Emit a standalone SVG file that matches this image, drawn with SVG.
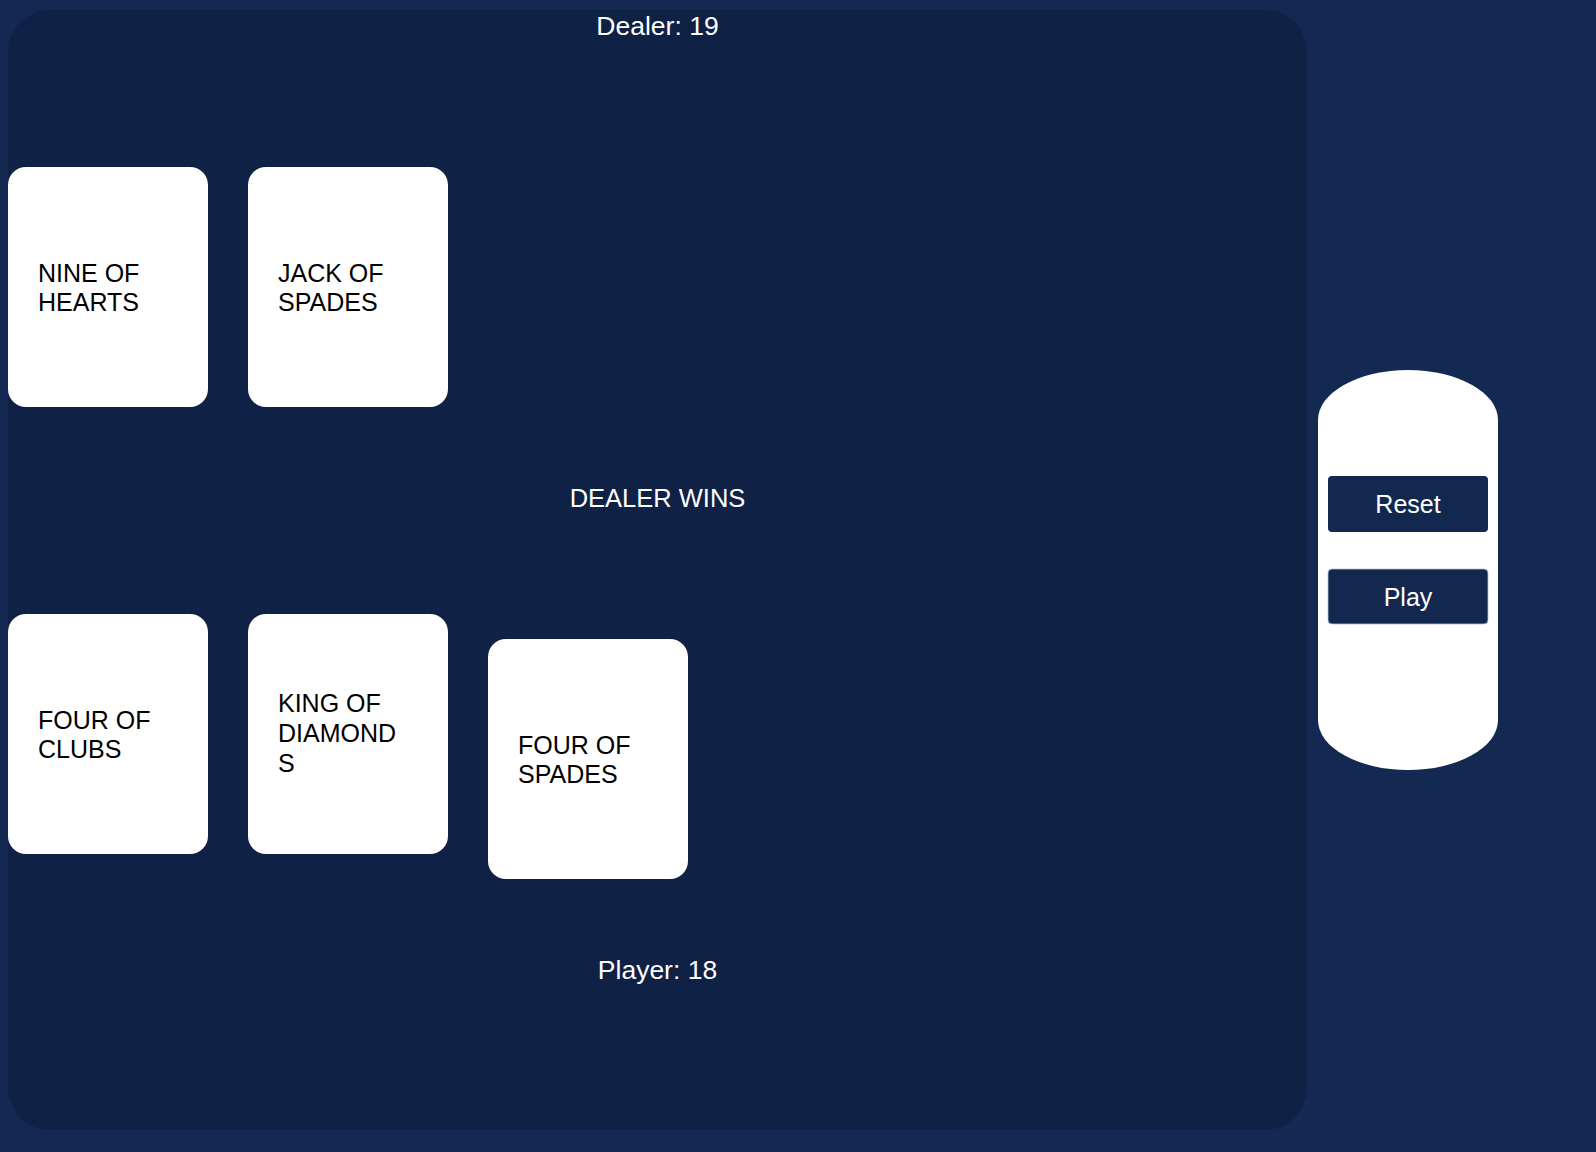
<svg xmlns="http://www.w3.org/2000/svg" width="1596" height="1152" viewBox="0 0 1596 1152">
<style>
.lbl{font-family:"Liberation Sans",Arial,sans-serif;font-size:25.5px;fill:#ffffff}
.score{font-size:26.5px}
.card rect{fill:#ffffff}
.card text{font-family:"Liberation Sans",Arial,sans-serif;font-size:25px;fill:#000000}
.btn rect{fill:#13284f}
.btn text{font-family:"Liberation Sans",Arial,sans-serif;font-size:25px;fill:#ffffff;text-anchor:middle}
</style>
<rect x="0" y="0" width="1596" height="1152" fill="#132952"/>
<g id="table">
<rect x="8" y="10" width="1299" height="1120" rx="42" ry="42" fill="#0f2144"/>
</g>
<g id="dealer-score"><text class="lbl score" x="657.5" y="35" text-anchor="middle">Dealer: 19</text></g>
<g id="result"><text class="lbl" x="657.5" y="507" text-anchor="middle">DEALER WINS</text></g>
<g id="player-score"><text class="lbl score" x="657.5" y="979" text-anchor="middle">Player: 18</text></g>
<g id="card-nine-hearts" class="card">
<rect x="8" y="167" width="200" height="240" rx="18"/>
<text x="38" y="282">NINE OF</text><text x="38" y="311">HEARTS</text>
</g>
<g id="card-jack-spades" class="card">
<rect x="248" y="167" width="200" height="240" rx="18"/>
<text x="278" y="282">JACK OF</text><text x="278" y="311">SPADES</text>
</g>
<g id="card-four-clubs" class="card">
<rect x="8" y="614" width="200" height="240" rx="18"/>
<text x="38" y="729">FOUR OF</text><text x="38" y="758">CLUBS</text>
</g>
<g id="card-king-diamonds" class="card">
<rect x="248" y="614" width="200" height="240" rx="18"/>
<text x="278" y="712">KING OF</text><text x="278" y="742">DIAMOND</text><text x="278" y="772">S</text>
</g>
<g id="card-four-spades" class="card">
<rect x="488" y="639" width="200" height="240" rx="18"/>
<text x="518" y="754">FOUR OF</text><text x="518" y="783">SPADES</text>
</g>
<g id="controls">
<path d="M1318,420 A90,50 0 0 1 1498,420 L1498,720 A90,50 0 0 1 1318,720 Z" fill="#ffffff"/>
</g>
<g id="btn-reset" class="btn">
<rect x="1328" y="476" width="160" height="56" rx="4"/>
<text x="1408" y="513">Reset</text>
</g>
<g id="btn-play" class="btn">
<rect x="1328" y="569" width="160" height="55" rx="4" stroke="#b8bfcc" stroke-width="0.8"/>
<text x="1408" y="606">Play</text>
</g>
<g id="connectors"/>
</svg>
